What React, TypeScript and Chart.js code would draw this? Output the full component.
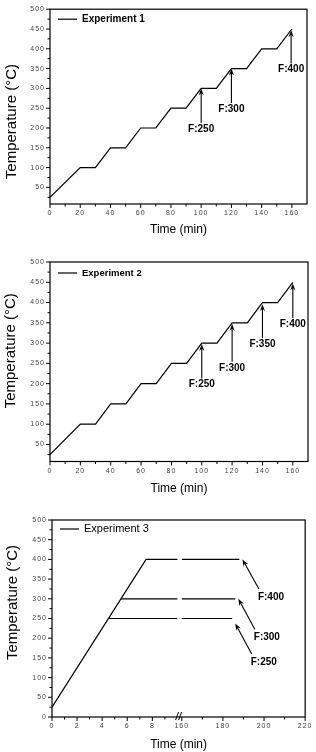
import React, { useEffect, useRef } from "react";
import { Chart, registerables } from "chart.js";

Chart.register(...registerables);

// ---------- Data ----------
// Experiments 1 & 2: staircase heating profile (Time min, Temperature °C)
const STEP_TIMES = [0, 20, 30, 40, 50, 60, 70, 80, 90, 100, 110, 120, 130, 140, 150, 160];
const EXP1_TEMPS = [25, 100, 100, 150, 150, 200, 200, 250, 250, 300, 300, 350, 350, 400, 400, 450];
const EXP2_TEMPS = [25, 100, 100, 150, 150, 200, 200, 250, 250, 300, 300, 350, 350, 400, 400, 450];

const X_TICKS_12 = [0, 20, 40, 60, 80, 100, 120, 140, 160];
const X_MINOR_12 = [10, 30, 50, 70, 90, 110, 130, 150];
const Y_TICKS_12 = [50, 100, 150, 200, 250, 300, 350, 400, 450, 500];
const Y_TICKS_3 = [0, 50, 100, 150, 200, 250, 300, 350, 400, 450, 500];
const Y_MINOR = [25, 75, 125, 175, 225, 275, 325, 375, 425, 475];

const ARROW1_LABELS = ["F:250", "F:300", "F:400"];
const ARROW1_X = [100, 120, 159.5];
const ARROW1_TIP = [300, 350, 447];
const ARROW1_TAIL = [213, 263, 363];

const ARROW2_LABELS = ["F:250", "F:300", "F:350", "F:400"];
const ARROW2_X = [100, 120, 140, 160];
const ARROW2_TIP = [298, 347, 396, 447];
const ARROW2_TAIL = [213, 254, 312, 361];

// Experiment 3: ramp then isothermal holds (broken time axis)
const EXP3_RAMP_T = [0, 7.5];
const EXP3_RAMP_Y = [25, 400];
const EXP3_LEVELS = [400, 300, 250];
const EXP3_LEVEL_START = [7.5, 5.5, 4.5];
const EXP3_LEVEL_END = [188, 186, 184.5];
const X_TICKS_3 = [0, 2, 4, 6, 8, 160, 180, 200, 220];
const X_MINOR_3 = [1, 3, 5, 7, 9, 170, 190, 210];
const ARROW3_LABELS = ["F:400", "F:300", "F:250"];
const ARROW3_TIP_X = [189.5, 187.5, 186];
const ARROW3_TIP_Y = [400, 300, 237];
const ARROW3_TAIL_X = [197.5, 195.5, 194];
const ARROW3_TAIL_Y = [325, 223, 160];

// broken axis: 0..10 min shown linearly, then 160..220 compressed
const BREAK_FROM = 10;
const BREAK_TO = 160;
const BREAK_GAP = 0.35;
const POST_SCALE = 6.1;
const breakMap = (t: number) =>
  t <= BREAK_FROM ? t : BREAK_FROM + BREAK_GAP + (t - BREAK_TO) / POST_SCALE;
const idMap = (t: number) => t;

const TICK_FONT = { family: "'Liberation Sans', Arial, sans-serif", size: 7 };
const TEXT_FAMILY = "'Liberation Sans', Arial, sans-serif";

type Pt = { x: number; y: number | null };
type ArrowSpec = { label: string; tipX: number; tipY: number; tailX: number; tailY: number; mode: "below" | "right" };

interface PanelSpec {
  top: number; height: number;
  left: number; right: number; plotTop: number; plotBottom: number;
  xMin: number; xMax: number; yMin: number; yMax: number;
  xTicks: number[]; xMinor: number[]; yTicks: number[];
  xMap: (t: number) => number;
  datasets: { label: string; data: Pt[] }[];
  legendLabel: string; legendFont: string; legendDy: number;
  arrows: ArrowSpec[];
  yTitleX: number; yTitleDy: number; xTitleDy: number;
  breakMark: boolean;
}

function zipPts(xs: number[], ys: number[], map: (t: number) => number): Pt[] {
  return xs.map((t, i) => ({ x: map(t), y: ys[i] }));
}

function exp3Datasets(): { label: string; data: Pt[] }[] {
  const gapX = breakMap(BREAK_FROM) + BREAK_GAP / 2;
  return EXP3_LEVELS.map((lvl, i) => {
    const pts: Pt[] = [];
    if (i === 0) pts.push(...zipPts(EXP3_RAMP_T, EXP3_RAMP_Y, breakMap));
    else pts.push({ x: breakMap(EXP3_LEVEL_START[i]), y: lvl });
    pts.push({ x: breakMap(BREAK_FROM), y: lvl });
    pts.push({ x: gapX, y: null });
    pts.push({ x: breakMap(BREAK_TO), y: lvl });
    pts.push({ x: breakMap(EXP3_LEVEL_END[i]), y: lvl });
    return { label: i === 0 ? "Experiment 3" : "", data: pts };
  });
}

const PANELS: PanelSpec[] = [
  {
    top: 0, height: 245, left: 50, right: 307, plotTop: 7, plotBottom: 204,
    xMin: 0, xMax: 170, yMin: 8, yMax: 500,
    xTicks: X_TICKS_12, xMinor: X_MINOR_12, yTicks: Y_TICKS_12, xMap: idMap,
    datasets: [{ label: "Experiment 1", data: zipPts(STEP_TIMES, EXP1_TEMPS, idMap) }],
    legendLabel: "Experiment 1", legendFont: `bold 10px ${TEXT_FAMILY}`, legendDy: 10,
    arrows: ARROW1_LABELS.map((l, i) => ({ label: l, tipX: ARROW1_X[i], tipY: ARROW1_TIP[i], tailX: ARROW1_X[i], tailY: ARROW1_TAIL[i], mode: "below" as const })),
    yTitleX: 12, yTitleDy: 15, xTitleDy: 26, breakMark: false,
  },
  {
    top: 250, height: 247, left: 50, right: 308, plotTop: 12, plotBottom: 211.5,
    xMin: 0, xMax: 170, yMin: 8, yMax: 500,
    xTicks: X_TICKS_12, xMinor: X_MINOR_12, yTicks: Y_TICKS_12, xMap: idMap,
    datasets: [{ label: "Experiment 2", data: zipPts(STEP_TIMES, EXP2_TEMPS, idMap) }],
    legendLabel: "Experiment 2", legendFont: `bold 9.5px ${TEXT_FAMILY}`, legendDy: 11,
    arrows: ARROW2_LABELS.map((l, i) => ({ label: l, tipX: ARROW2_X[i], tipY: ARROW2_TIP[i], tailX: ARROW2_X[i], tailY: ARROW2_TAIL[i], mode: "below" as const })),
    yTitleX: 11, yTitleDy: -11, xTitleDy: 27.5, breakMark: false,
  },
  {
    top: 500, height: 252, left: 52, right: 307, plotTop: 20, plotBottom: 217,
    xMin: 0, xMax: breakMap(220), yMin: 0, yMax: 500,
    xTicks: X_TICKS_3, xMinor: X_MINOR_3, yTicks: Y_TICKS_3, xMap: breakMap,
    datasets: exp3Datasets(),
    legendLabel: "Experiment 3", legendFont: `11px ${TEXT_FAMILY}`, legendDy: 9,
    arrows: ARROW3_LABELS.map((l, i) => ({ label: l, tipX: ARROW3_TIP_X[i], tipY: ARROW3_TIP_Y[i], tailX: ARROW3_TAIL_X[i], tailY: ARROW3_TAIL_Y[i], mode: "right" as const })),
    yTitleX: 12.5, yTitleDy: -16, xTitleDy: 28, breakMark: true,
  },
];

function drawArrow(ctx: CanvasRenderingContext2D, x1: number, y1: number, x2: number, y2: number) {
  const ang = Math.atan2(y2 - y1, x2 - x1);
  const dx = Math.cos(ang), dy = Math.sin(ang);
  const px = -dy, py = dx;
  const len = 7, w = 2.6;
  ctx.beginPath();
  ctx.moveTo(x1, y1);
  ctx.lineTo(x2 - dx * len * 0.6, y2 - dy * len * 0.6);
  ctx.stroke();
  ctx.beginPath();
  ctx.moveTo(x2, y2);
  ctx.lineTo(x2 - dx * len + px * w, y2 - dy * len + py * w);
  ctx.lineTo(x2 - dx * len * 0.65, y2 - dy * len * 0.65);
  ctx.lineTo(x2 - dx * len - px * w, y2 - dy * len - py * w);
  ctx.closePath();
  ctx.fill();
}

function makeDecor(spec: PanelSpec) {
  return {
    id: "decor",
    beforeDraw(chart: any) {
      (chart.ctx as any).letterSpacing = "1px";
    },
    afterDraw(chart: any) {
      const ctx: CanvasRenderingContext2D = chart.ctx;
      const a = chart.chartArea;
      const xs = chart.scales.x, ys = chart.scales.y;
      ctx.save();
      (ctx as any).letterSpacing = "0px";
      ctx.strokeStyle = "#000";
      ctx.fillStyle = "#000";
      ctx.lineWidth = 1.2;
      ctx.strokeRect(a.left, a.top, a.right - a.left, a.bottom - a.top);

      // tick marks
      ctx.lineWidth = 1;
      ctx.beginPath();
      for (const t of spec.xTicks) {
        const p = xs.getPixelForValue(spec.xMap(t));
        ctx.moveTo(p, a.bottom); ctx.lineTo(p, a.bottom + 4);
      }
      for (const t of spec.xMinor) {
        const p = xs.getPixelForValue(spec.xMap(t));
        ctx.moveTo(p, a.bottom); ctx.lineTo(p, a.bottom + 2.5);
      }
      for (const v of spec.yTicks) {
        const p = ys.getPixelForValue(v);
        ctx.moveTo(a.left, p); ctx.lineTo(a.left - 4, p);
      }
      for (const v of Y_MINOR) {
        if (v < spec.yMin) continue;
        const p = ys.getPixelForValue(v);
        ctx.moveTo(a.left, p); ctx.lineTo(a.left - 2.5, p);
      }
      ctx.stroke();

      // axis break marks
      if (spec.breakMark) {
        const bx = xs.getPixelForValue(breakMap(BREAK_FROM) + BREAK_GAP / 2);
        ctx.beginPath();
        ctx.moveTo(bx - 4, a.bottom + 3); ctx.lineTo(bx - 1, a.bottom - 5);
        ctx.moveTo(bx - 1, a.bottom + 3); ctx.lineTo(bx + 2, a.bottom - 5);
        ctx.stroke();
      }

      // legend
      const ly = a.top + spec.legendDy;
      ctx.lineWidth = 1.2;
      ctx.beginPath();
      ctx.moveTo(a.left + 8, ly); ctx.lineTo(a.left + 27, ly);
      ctx.stroke();
      ctx.font = spec.legendFont;
      ctx.textAlign = "left";
      ctx.textBaseline = "middle";
      ctx.fillText(spec.legendLabel, a.left + 32, ly);

      // arrows
      ctx.lineWidth = 1.1;
      ctx.font = `bold 10px ${TEXT_FAMILY}`;
      for (const ar of spec.arrows) {
        const tx = xs.getPixelForValue(spec.xMap(ar.tipX));
        const ty = ys.getPixelForValue(ar.tipY);
        const sx = xs.getPixelForValue(spec.xMap(ar.tailX));
        const sy = ys.getPixelForValue(ar.tailY);
        drawArrow(ctx, sx, sy, tx, ty);
        ctx.textBaseline = "top";
        if (ar.mode === "below") {
          ctx.textAlign = "center";
          ctx.fillText(ar.label, sx, sy + 1);
        } else {
          ctx.textAlign = "left";
          ctx.fillText(ar.label, sx - 1, sy + 3);
        }
      }

      // axis titles
      ctx.textAlign = "center";
      ctx.textBaseline = "middle";
      ctx.font = `12px ${TEXT_FAMILY}`;
      ctx.fillText("Time (min)", (a.left + a.right) / 2, a.bottom + spec.xTitleDy);
      ctx.save();
      ctx.translate(spec.yTitleX, (a.top + a.bottom) / 2 + spec.yTitleDy);
      ctx.rotate(-Math.PI / 2);
      ctx.font = `15px ${TEXT_FAMILY}`;
      ctx.fillText("Temperature (°C)", 0, 0);
      ctx.restore();

      ctx.restore();
    },
  };
}

function Panel({ spec }: { spec: PanelSpec }) {
  const ref = useRef<HTMLCanvasElement | null>(null);
  useEffect(() => {
    if (!ref.current) return;
    const chart = new Chart(ref.current, {
      type: "line",
      data: {
        datasets: spec.datasets.map((d) => ({
          label: d.label,
          data: d.data as any,
          borderColor: "#000",
          borderWidth: 1.2,
          pointRadius: 0,
          fill: false,
          tension: 0,
          spanGaps: false,
        })),
      },
      options: {
        animation: false,
        responsive: false,
        devicePixelRatio: 1,
        layout: { padding: { left: 0, top: spec.plotTop, right: 316 - spec.right, bottom: 0 } },
        plugins: { legend: { display: false }, tooltip: { enabled: false } },
        scales: {
          x: {
            type: "linear",
            min: spec.xMin,
            max: spec.xMax,
            afterBuildTicks: (s: any) => { s.ticks = spec.xTicks.map((t) => ({ value: spec.xMap(t) })); },
            afterFit: (s: any) => { s.height = spec.height - spec.plotBottom; },
            ticks: {
              autoSkip: false, maxRotation: 0, minRotation: 0, padding: 5,
              font: TICK_FONT, color: "#444",
              callback: (_v: any, i: number) => String(spec.xTicks[i]),
            },
            grid: { display: false, drawTicks: false },
            border: { display: false },
          },
          y: {
            type: "linear",
            min: spec.yMin,
            max: spec.yMax,
            afterBuildTicks: (s: any) => { s.ticks = spec.yTicks.map((v) => ({ value: v })); },
            afterFit: (s: any) => { s.width = spec.left; },
            ticks: { padding: 5, font: TICK_FONT, color: "#444", callback: (v: any) => String(v) },
            grid: { display: false, drawTicks: false },
            border: { display: false },
          },
        },
      },
      plugins: [makeDecor(spec)],
    } as any);
    return () => chart.destroy();
  }, [spec]);
  return (
    <canvas
      ref={ref}
      width={316}
      height={spec.height}
      style={{ position: "absolute", left: 0, top: spec.top, width: 316, height: spec.height }}
    />
  );
}

export default function App() {
  return (
    <div style={{ position: "absolute", left: 0, top: 0, width: 316, height: 752, background: "#fff", overflow: "hidden" }}>
      {PANELS.map((p, i) => (
        <Panel key={i} spec={p} />
      ))}
    </div>
  );
}
